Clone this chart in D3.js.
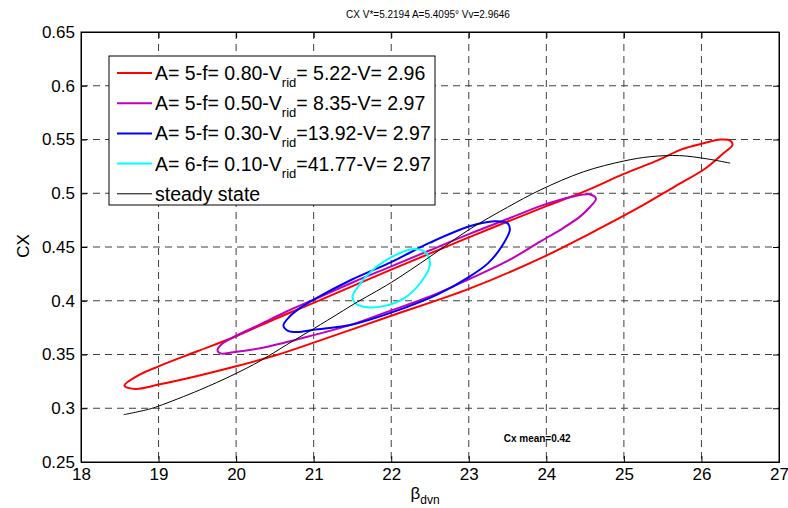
<!DOCTYPE html>
<html>
<head>
<meta charset="utf-8">
<script src="https://cdn.jsdelivr.net/npm/d3@7"></script>
<style>
  body { margin: 0; background: #fff; }
  svg { font-family: "Liberation Sans", Arial, sans-serif; }
</style>
</head>
<body>
<script>

// Loops: [beta_dvn, CX]
var redLoop = [
  [18.56,0.321],[18.75,0.331],[19.0,0.339],[19.5,0.353],[20.0,0.367],[20.5,0.383],
  [21.0,0.398],[22.0,0.429],[23.0,0.459],[24.0,0.488],[24.5,0.502],[25.0,0.518],[25.45,0.531],
  [25.75,0.541],[26.0,0.546],[26.25,0.550],[26.37,0.549],[26.4,0.545],
  [26.28,0.537],[26.05,0.523],[25.65,0.506],[25.2,0.487],[24.55,0.462],[24.0,0.442],[23.0,0.411],
  [22.0,0.386],[21.0,0.361],[20.5,0.349],[20.0,0.339],[19.5,0.330],[19.0,0.322],[18.7,0.318]
];

var magentaLoop = [
  [19.76,0.354],[19.82,0.360],[19.96,0.366],[20.31,0.378],[20.65,0.390],[21.0,0.401],[21.5,0.417],
  [22.0,0.432],[22.5,0.447],[23.0,0.462],[23.5,0.476],[23.92,0.488],[24.18,0.494],[24.35,0.497],
  [24.55,0.499],[24.64,0.495],
  [24.56,0.487],[24.43,0.478],[24.18,0.466],[23.92,0.455],[23.5,0.437],[23.0,0.420],[22.5,0.404],
  [22.0,0.391],[21.5,0.378],[21.0,0.368],[20.39,0.357],[19.96,0.352],[19.8,0.351]
];

var blueLoop = [
  [20.61,0.377],[20.7,0.386],[20.8,0.392],[21.0,0.401],[21.5,0.420],[22.0,0.436],[22.5,0.454],
  [23.0,0.469],[23.33,0.474],[23.5,0.472],[23.53,0.466],
  [23.42,0.450],[23.25,0.435],[23.0,0.422],[22.6,0.406],[22.0,0.389],[21.5,0.378],[21.0,0.373],
  [20.82,0.371],[20.67,0.372]
];

var cyanLoop = [
  [21.5,0.403],[21.55,0.411],[21.75,0.428],[22.04,0.442],[22.27,0.448],[22.44,0.445],[22.5,0.434],
  [22.38,0.417],[22.16,0.402],[21.9,0.395],[21.69,0.394],[21.55,0.397]
];

var steadyState = [
  [18.55,0.294],[18.87,0.299],[19.0,0.302],[19.53,0.317],[19.96,0.331],[20.31,0.344],[20.65,0.359],
  [21.0,0.374],[21.34,0.389],[21.52,0.397],[22.0,0.417],[22.5,0.441],[23.0,0.466],[23.5,0.487],
  [23.92,0.503],[24.48,0.520],[25.0,0.530],[25.34,0.534],[25.72,0.535],[26.07,0.532],[26.37,0.528]
];

var xTicks = [18, 19, 20, 21, 22, 23, 24, 25, 26, 27];
var yTicks = [0.25, 0.3, 0.35, 0.4, 0.45, 0.5, 0.55, 0.6, 0.65];
var yTickLabels = ["0.25", "0.3", "0.35", "0.4", "0.45", "0.5", "0.55", "0.6", "0.65"];

var seriesColors = ["#ff0000", "#bf00bf", "#0000ff", "#00ffff", "#000000"];
var legendMain = ["A= 5-f= 0.80-V", "A= 5-f= 0.50-V", "A= 5-f= 0.30-V", "A= 6-f= 0.10-V", "steady state"];
var legendTail = ["= 5.22-V= 2.96", "= 8.35-V= 2.97", "=13.92-V= 2.97", "=41.77-V= 2.97", ""];

var titleText = "CX V*=5.2194 A=5.4095\u00b0 Vv=2.9646";
var meanText = "Cx mean=0.42";


var margin = {top: 32, right: 9, bottom: 46, left: 81},
    width = 788 - margin.left - margin.right,
    height = 508 - margin.top - margin.bottom;

var x = d3.scaleLinear().domain([18, 27]).range([0, width]);
var y = d3.scaleLinear().domain([0.25, 0.65]).range([height, 0]);

var svg = d3.select("body").append("svg")
            .attr("width", 788)
            .attr("height", 508);

svg.append("text")
   .attr("x", 428).attr("y", 18)
   .attr("text-anchor", "middle")
   .style("font-size", "10px")
   .text(titleText);

var g = svg.append("g")
           .attr("transform", "translate(" + margin.left + "," + margin.top + ")");

// dashed grid
g.append("g").selectAll("line").data(xTicks.slice(1, -1)).enter().append("line")
 .attr("x1", d => x(d)).attr("x2", d => x(d))
 .attr("y1", 0).attr("y2", height)
 .attr("stroke", "#404040").attr("stroke-dasharray", "7,5");

g.append("g").selectAll("line").data(yTicks.slice(1, -1)).enter().append("line")
 .attr("y1", d => y(d)).attr("y2", d => y(d))
 .attr("x1", 0).attr("x2", width)
 .attr("stroke", "#404040").attr("stroke-dasharray", "7,5");

// box
g.append("rect")
 .attr("width", width).attr("height", height)
 .attr("fill", "none").attr("stroke", "#000");

// axes with inward ticks
g.append("g")
   .attr("transform", "translate(0," + height + ")")
   .call(d3.axisBottom(x).tickValues(xTicks).tickFormat(d3.format("d")).tickSize(-6).tickPadding(6));
g.append("g")
   .call(d3.axisTop(x).tickValues(xTicks).tickFormat("").tickSize(-6));
g.append("g")
   .call(d3.axisLeft(y).tickValues(yTicks).tickFormat((d, i) => yTickLabels[i]).tickSize(-6).tickPadding(6));
g.append("g")
   .attr("transform", "translate(" + width + ",0)")
   .call(d3.axisRight(y).tickValues(yTicks).tickFormat("").tickSize(-6));

g.selectAll(".domain").attr("stroke", "#000");
g.selectAll(".tick line").attr("stroke", "#000");
g.selectAll(".tick text").style("font-size", "17px").style("font-family", "'Liberation Sans', Arial, sans-serif").attr("fill", "#000");

// curves
var loopLine = d3.line().x(d => x(d[0])).y(d => y(d[1])).curve(d3.curveCatmullRomClosed.alpha(0.5));
var openLine = d3.line().x(d => x(d[0])).y(d => y(d[1])).curve(d3.curveCatmullRom.alpha(0.5));

var loops = [redLoop, magentaLoop, blueLoop, cyanLoop];
loops.forEach(function (pts, i) {
    g.append("path")
     .attr("d", loopLine(pts))
     .attr("fill", "none")
     .attr("stroke", seriesColors[i])
     .attr("stroke-width", 2);
});

g.append("path")
 .attr("d", openLine(steadyState))
 .attr("fill", "none")
 .attr("stroke", seriesColors[4])
 .attr("stroke-width", 1);

g.append("text")
 .attr("x", x(23.45)).attr("y", y(0.2685))
 .style("font-size", "10px").style("font-weight", "bold")
 .text(meanText);

// legend
var legend = svg.append("g").attr("transform", "translate(109,56)");
legend.append("rect")
      .attr("width", 326).attr("height", 149)
      .attr("fill", "#fff").attr("stroke", "#000");

legendMain.forEach(function (label, i) {
    var row = legend.append("g").attr("transform", "translate(0," + (17 + i * 30.2) + ")");
    row.append("line")
       .attr("x1", 8).attr("x2", 43)
       .attr("stroke", seriesColors[i])
       .attr("stroke-width", i < 4 ? 2 : 1);
    var t = row.append("text")
       .attr("x", 46).attr("y", 7)
       .style("font-size", "19.5px");
    t.append("tspan").text(label);
    if (legendTail[i]) {
        t.append("tspan").attr("dy", 7).style("font-size", "13px").text("rid");
        t.append("tspan").attr("dy", -7).text(legendTail[i]);
    }
});

// axis labels
var xl = svg.append("text")
   .attr("x", 425).attr("y", 499)
   .attr("text-anchor", "middle")
   .style("font-size", "17px");
xl.append("tspan").text("\u03b2");
xl.append("tspan").attr("dy", 5).style("font-size", "12px").text("dvn");

svg.append("text")
   .attr("transform", "translate(29,246) rotate(-90)")
   .attr("text-anchor", "middle")
   .style("font-size", "17px")
   .text("CX");

</script>
</body>
</html>
